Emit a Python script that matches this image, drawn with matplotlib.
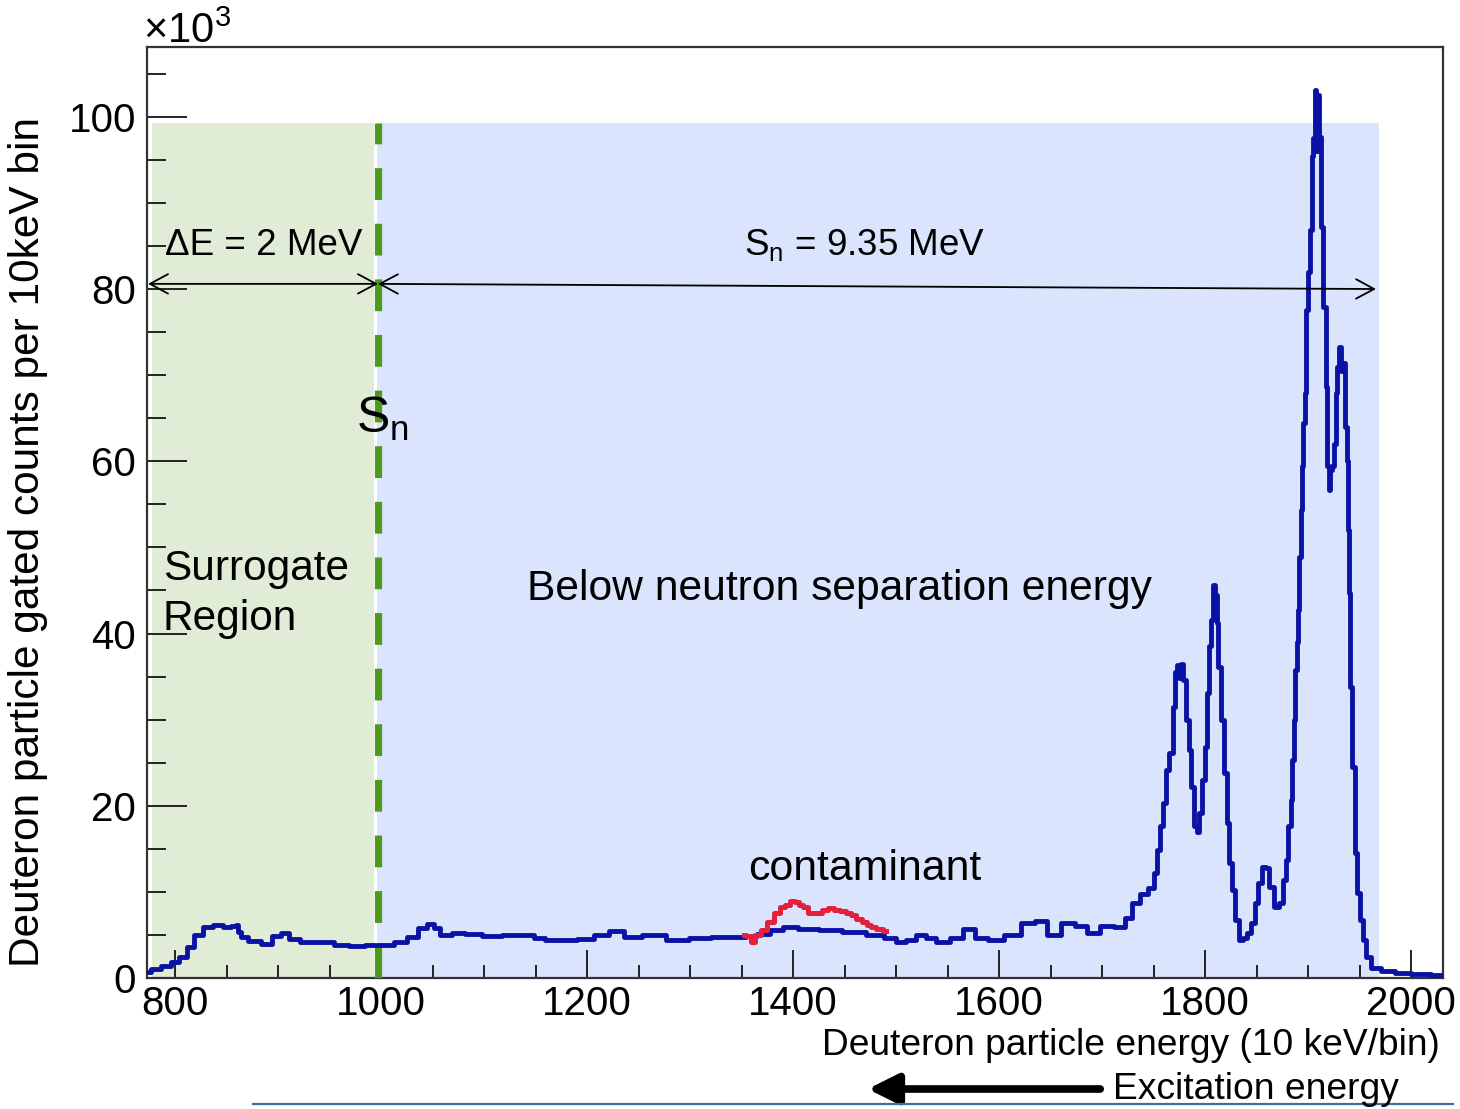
import numpy as np
import matplotlib.pyplot as plt
from matplotlib.ticker import MultipleLocator

plt.rcParams['font.family'] = ['Liberation Sans', 'DejaVu Sans']
plt.rcParams['mathtext.fontset'] = 'custom'
plt.rcParams['mathtext.rm'] = 'Liberation Sans'
plt.rcParams['mathtext.it'] = 'Liberation Sans:italic'
plt.rcParams['mathtext.default'] = 'regular'

# deuteron spectrum (bin number, counts in 10^3 per 10 keV bin)
energy = [773, 780, 792, 800, 808, 815, 822, 832, 842, 851, 858, 860, 862, 866,
          876, 890, 899, 907, 914, 928, 948, 960, 977, 992, 1006, 1019, 1031,
          1041, 1048, 1055, 1060, 1077, 1087, 1109, 1125, 1142, 1155, 1164,
          1181, 1200, 1213, 1230, 1242, 1265, 1288, 1310, 1330, 1349, 1360,
          1371, 1385, 1395, 1414, 1437, 1459, 1482, 1495, 1505, 1515, 1524,
          1534, 1544, 1560, 1571, 1583, 1595, 1614, 1628, 1641, 1653, 1667,
          1680, 1691, 1706, 1718, 1726, 1733, 1740, 1749, 1752, 1755, 1758,
          1761, 1764, 1767, 1770, 1772, 1774, 1776, 1778, 1780, 1783, 1785,
          1788, 1791, 1793, 1796, 1798, 1801, 1803, 1805, 1807, 1809, 1810,
          1811, 1812, 1814, 1817, 1820, 1822, 1825, 1828, 1830, 1835, 1839,
          1843, 1847, 1850, 1853, 1857, 1861, 1864, 1869, 1874, 1877, 1880,
          1882, 1884, 1885, 1887, 1888, 1890, 1891, 1892, 1894, 1895, 1896,
          1898, 1899, 1901, 1903, 1904, 1906, 1907, 1909, 1910, 1912, 1914,
          1916, 1918, 1919, 1921, 1922, 1924, 1926, 1928, 1929, 1931, 1933,
          1934, 1937, 1938, 1939, 1940, 1941, 1944, 1947, 1948, 1952, 1955,
          1958, 1964, 1978, 1990, 2010, 2029]
counts = [0.7, 1.0, 1.4, 1.9, 2.4, 3.6, 5.0, 5.9, 6.1, 5.9, 6.0, 6.2, 5.3, 4.8,
          4.3, 4.0, 4.9, 5.2, 4.5, 4.2, 4.2, 3.8, 3.7, 3.8, 3.8, 4.2, 4.8,
          5.8, 6.3, 5.8, 5.0, 5.2, 5.1, 4.9, 5.0, 5.0, 4.7, 4.4,
          4.4, 4.5, 5.0, 5.5, 4.8, 5.0, 4.4, 4.6, 4.8, 4.8, 4.9,
          5.1, 5.6, 5.9, 5.7, 5.6, 5.4, 5.0, 4.6, 4.2, 4.4, 5.0,
          4.6, 4.2, 4.6, 5.7, 4.6, 4.4, 5.0, 6.4, 6.6, 5.0, 6.4,
          6.0, 5.2, 6.0, 5.9, 7.0, 8.7, 9.8, 10.5, 12.2, 14.9, 17.6,
          20.3, 24.2, 26.1, 31.5, 35.5, 36.3, 34.8, 36.5, 34.6, 30.0, 26.5,
          22.2, 17.6, 17.0, 19.2, 23.0, 26.8, 33.1, 38.5, 41.6, 45.6, 42.0,
          44.5, 41.2, 36.1, 30.0, 23.8, 18.0, 13.4, 10.2, 6.7, 4.4, 4.6,
          5.2, 6.4, 8.7, 11.0, 12.9, 12.8, 10.6, 8.2, 8.7, 11.4, 13.7,
          17.6, 20.7, 25.3, 30.0, 35.8, 39.0, 42.7, 48.9, 54.4, 59.4, 64.5,
          67.9, 77.6, 82.0, 86.9, 95.4, 97.5, 103.1, 96.0, 102.5, 97.7, 87.2,
          77.9, 68.6, 59.4, 56.7, 59.0, 59.4, 62.0, 67.9, 71.0, 73.3, 70.5,
          71.4, 64.0, 60.0, 52.0, 44.7, 33.8, 24.5, 14.5, 9.9, 6.7, 4.4,
          2.4, 1.2, 0.8, 0.6, 0.5, 0.4]

# contaminant component
cont_energy = [1352, 1357, 1361, 1366, 1371, 1378, 1385, 1390, 1395, 1400, 1404,
               1408, 1412, 1417, 1421, 1425, 1431, 1437, 1443, 1449, 1454, 1459,
               1464, 1469, 1474, 1478, 1484, 1490]
cont_counts = [5.0, 4.9, 4.2, 5.0, 5.6, 6.5, 7.5, 8.2, 8.5, 8.9, 8.8,
               8.5, 8.2, 7.5, 7.6, 7.6, 7.9, 8.1, 7.9, 7.8, 7.5, 7.3,
               6.9, 6.5, 6.2, 5.9, 5.7, 5.5]

sn_bin = 997          # neutron separation energy position
surrogate = (778, 993.5)
below_sn = (996, 1969)
shade_top = 99.3

fig = plt.figure(figsize=(14.6, 11.09), dpi=100)
ax = fig.add_axes([0.1007, 0.1181, 0.8877, 0.8395])

ax.fill_between(surrogate, 0, shade_top, color='#e1ecd7', lw=0, zorder=0)
ax.fill_between(below_sn, 0, shade_top, color='#dbe4fd', lw=0, zorder=0)
ax.plot([sn_bin, sn_bin], [0, shade_top], color='#4e9a1d', lw=5.2,
        dashes=(4.4, 3.3), dash_capstyle='butt', zorder=3)

ax.plot(energy, counts, drawstyle='steps-mid', color='#0a12a6', lw=3.5, zorder=4)
ax.plot(cont_energy, cont_counts, drawstyle='steps-mid', color='#e5203c',
        lw=3.6, zorder=5)

# energy range arrows
arrow_kw = dict(arrowstyle='<->,head_length=0.65,head_width=0.35',
                color='black', lw=1.3, mutation_scale=20, shrinkA=0, shrinkB=0)
ax.annotate('', xy=(773.8, 80.6), xytext=(sn_bin, 80.6), arrowprops=arrow_kw, zorder=6)
ax.annotate('', xy=(sn_bin, 80.6), xytext=(1966, 80.0), arrowprops=arrow_kw, zorder=6)

ax.text(790, 83.9, 'ΔE = 2 MeV', fontsize=26.5, va='baseline', zorder=7)
ax.text(1352, 84.0, 'S$_n$ = 9.35 MeV', fontsize=26.5, va='baseline', zorder=7)
ax.text(976, 63.3, 'S$_n$', fontsize=36, va='baseline', zorder=7)
ax.text(788, 46.2, 'Surrogate', fontsize=30.5, va='baseline', zorder=7)
ax.text(788, 40.4, 'Region', fontsize=30.5, va='baseline', zorder=7)
ax.text(1141.5, 43.9, 'Below neutron separation energy', fontsize=30.7,
        va='baseline', zorder=7)
ax.text(1356, 11.4, 'contaminant', fontsize=30.8, va='baseline', zorder=7)

ax.set_xlim(772.8, 2031.1)
ax.set_ylim(0, 108.1)
ax.xaxis.set_major_locator(MultipleLocator(200))
ax.xaxis.set_minor_locator(MultipleLocator(50))
ax.yaxis.set_major_locator(MultipleLocator(20))
ax.yaxis.set_minor_locator(MultipleLocator(5))
ax.tick_params(axis='both', which='both', direction='in', width=1.4,
               color='#222222', labelsize=29)
ax.tick_params(axis='y', which='major', length=29, pad=8)
ax.tick_params(axis='y', which='minor', length=14)
ax.tick_params(axis='x', which='major', length=20, pad=5)
ax.tick_params(axis='x', which='minor', length=9.5)
for side in ax.spines.values():
    side.set_linewidth(1.6)
    side.set_color('#333333')

fig.text(143 / 1460, 1066 / 1109, '×10$^{3}$', fontsize=30, va='baseline')
fig.text(28 / 1460, 567 / 1109, 'Deuteron particle gated counts per 10keV bin',
         rotation=90, fontsize=30.5, ha='center', va='center')
fig.text(1440 / 1460, 54 / 1109, 'Deuteron particle energy (10 keV/bin)',
         fontsize=26.7, ha='right', va='baseline')
fig.text(1113 / 1460, 10 / 1109, 'Excitation energy', fontsize=26.8, va='baseline')
fig.patches.append(plt.matplotlib.patches.FancyArrowPatch(
    (1103 / 1460, 20 / 1109), (865 / 1460, 20 / 1109), transform=fig.transFigure,
    arrowstyle='-|>,head_length=0.9,head_width=0.45', mutation_scale=20,
    lw=5.5, color='black'))
fig.add_artist(plt.Line2D([253 / 1460, 1453 / 1460], [5 / 1109, 5 / 1109],
                          color='#3f6e9e', lw=1.6))

fig.savefig('out.png', dpi=100)
